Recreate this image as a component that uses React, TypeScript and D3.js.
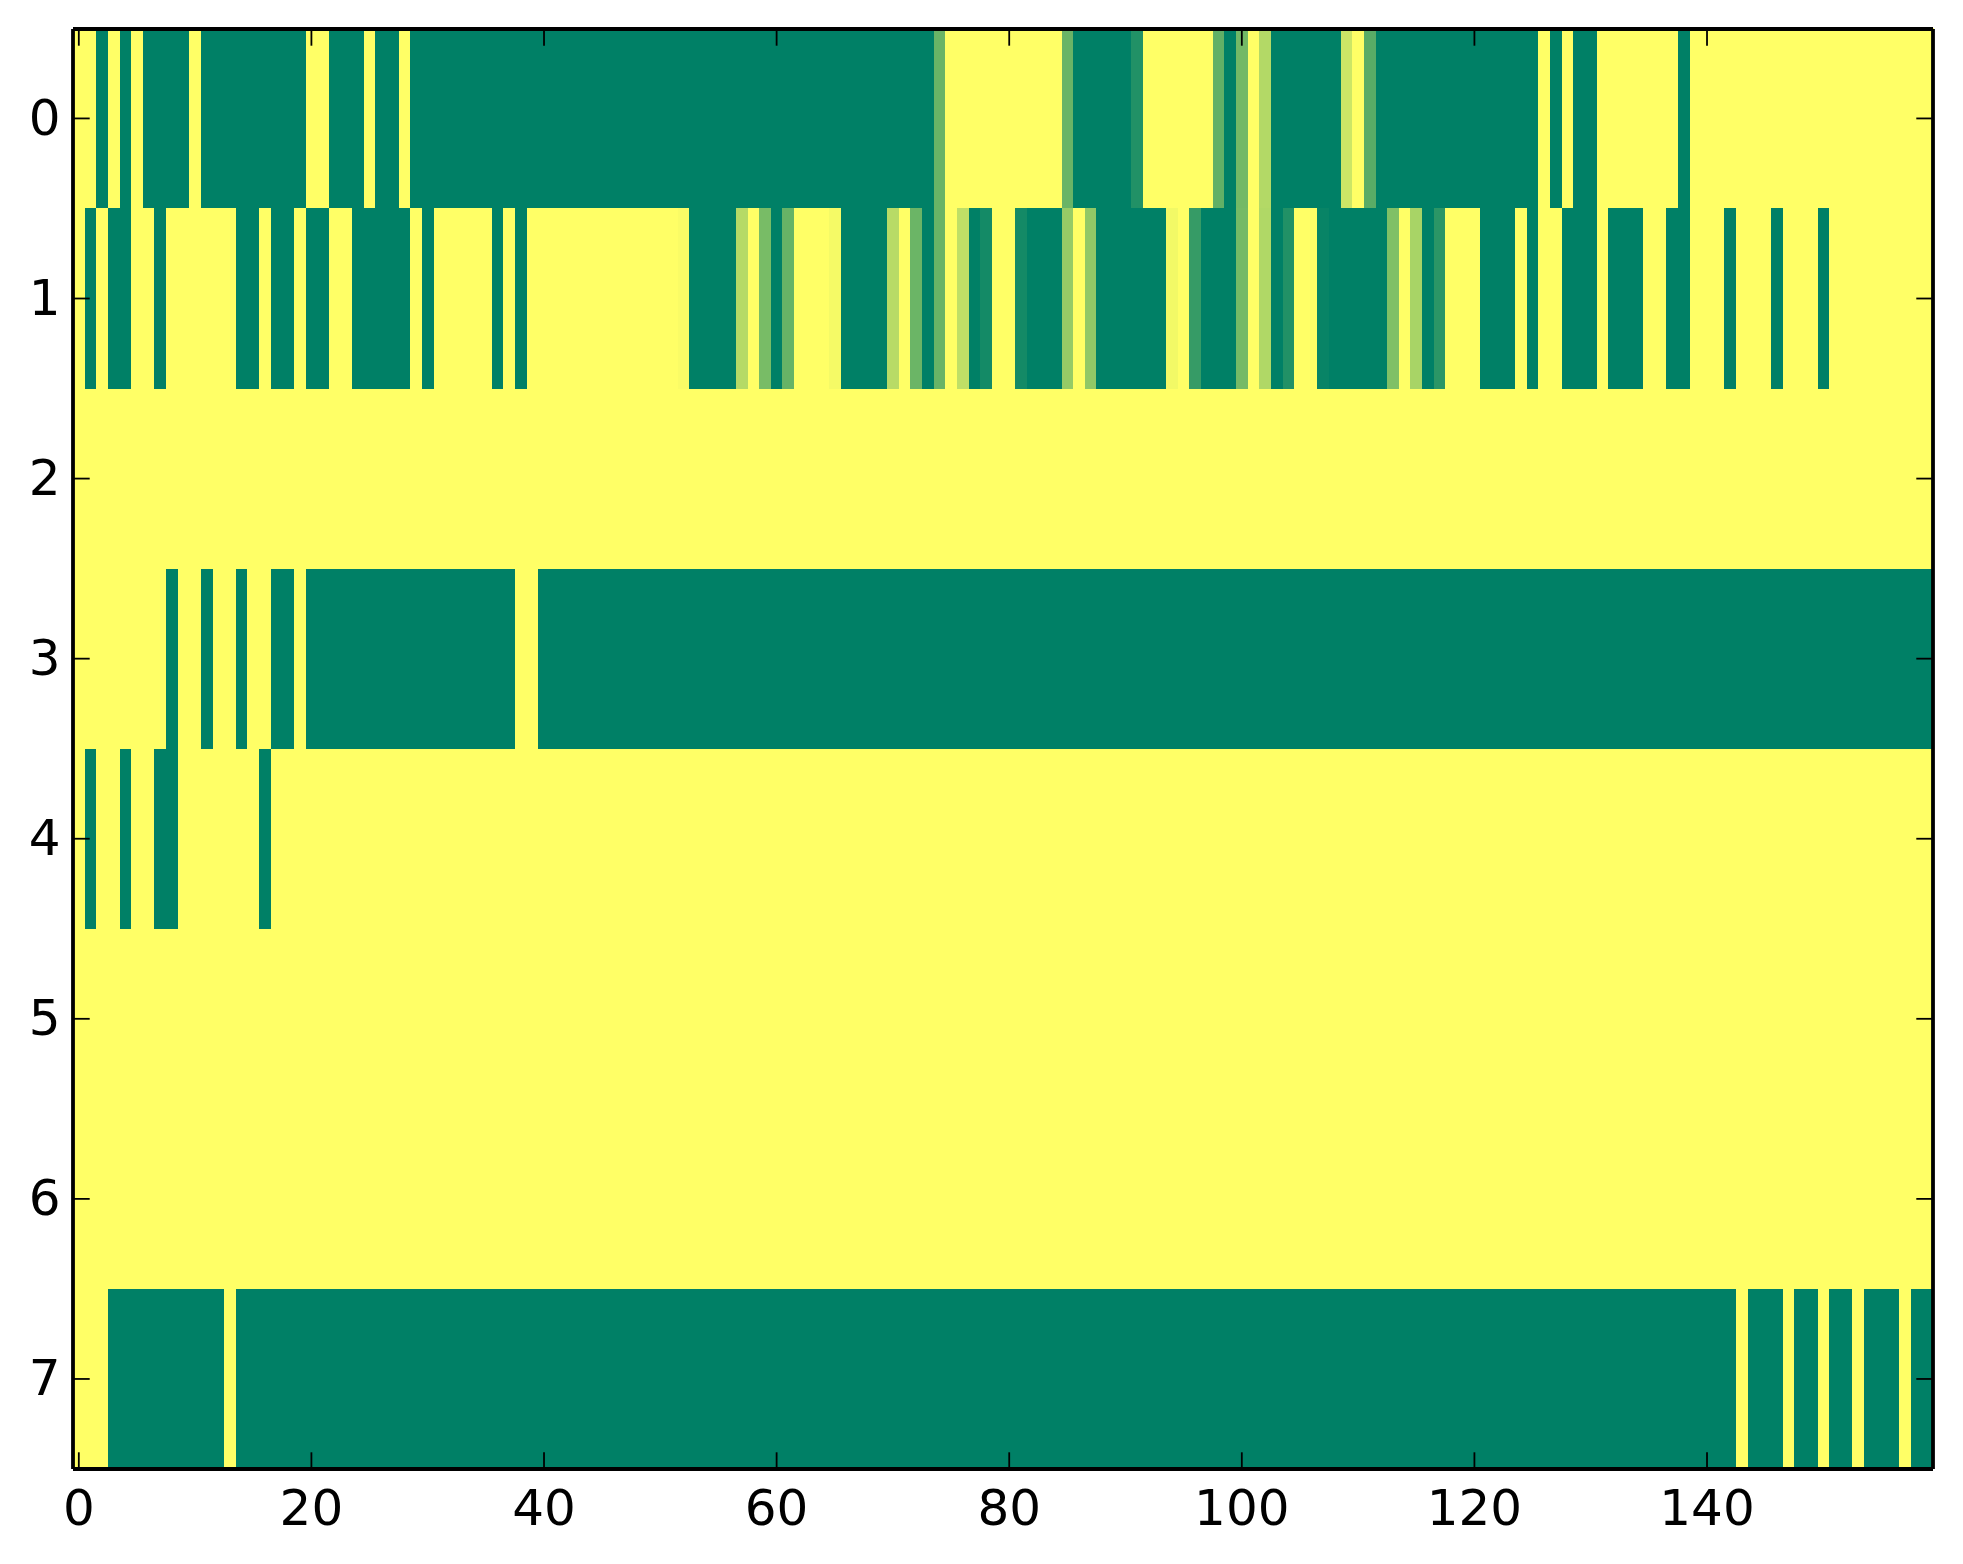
import * as d3 from "d3";

const WIDTH = 1963;
const HEIGHT = 1564;
// edges of the image inside the axes
const MARGIN = { top: 28.4, right: 29.2, bottom: 95, left: 73 };

const COLS = 160;
const ROWS = 8;

// runs of solid green cells per row: [first column, last column]
const row0Green = [[2, 2], [4, 4], [6, 9], [11, 19], [22, 24], [26, 27], [29, 73], [86, 90], [99, 99], [103, 108], [112, 125], [127, 127], [129, 130], [138, 138]];
const row1Green = [[1, 1], [3, 4], [7, 7], [14, 15], [17, 18], [20, 21], [24, 28], [30, 30], [36, 36], [38, 38], [53, 56], [60, 60], [66, 69], [73, 73], [77, 77], [82, 84], [88, 93], [97, 99], [103, 103], [108, 112], [116, 116], [121, 123], [125, 125], [128, 130], [132, 134], [137, 138], [142, 142], [146, 146], [150, 150]];
const row3Green = [[8, 8], [11, 11], [14, 14], [17, 18], [20, 37], [40, 159]];
const row4Green = [[1, 1], [4, 4], [7, 8], [16, 16]];
const row7Green = [[3, 12], [14, 142], [144, 146], [148, 149], [151, 152], [154, 156], [158, 159]];

// in-between cells: [column, value] (0 = green, 1 = yellow)
const row0Mixed = [[74, 0.41], [85, 0.41], [91, 0.13], [98, 0.38], [100, 0.45], [102, 0.7], [109, 0.8], [111, 0.35]];
const row1Mixed = [[52, 0.98], [57, 0.71], [59, 0.47], [61, 0.4], [65, 0.96], [70, 0.72], [72, 0.42], [74, 0.41], [76, 0.75], [78, 0.08], [81, 0.08], [85, 0.59], [87, 0.57], [94, 0.95], [96, 0.21], [100, 0.46], [102, 0.69], [104, 0.13], [107, 0.03], [113, 0.5], [115, 0.66], [117, 0.17]];

const greenRuns = [
  { row: 0, runs: row0Green },
  { row: 1, runs: row1Green },
  { row: 3, runs: row3Green },
  { row: 4, runs: row4Green },
  { row: 7, runs: row7Green },
];
const mixedCells = [
  { row: 0, cells: row0Mixed },
  { row: 1, cells: row1Mixed },
];

const xTicks = [0, 20, 40, 60, 80, 100, 120, 140];
const yTicks = [0, 1, 2, 3, 4, 5, 6, 7];

const TICK = 16.7;
const FONT = "'DejaVu Sans', sans-serif";

function App() {
  const left = MARGIN.left;
  const right = WIDTH - MARGIN.right;
  const top = MARGIN.top;
  const bottom = HEIGHT - MARGIN.bottom;

  // the frame sits a touch inside the image edges
  const frame = { left, right: right - 0.8, top: top + 0.6, bottom };

  const xScale = d3.scaleLinear().domain([-0.5, COLS - 0.5]).range([left, right]);
  const yScale = d3.scaleLinear().domain([-0.5, ROWS - 0.5]).range([top, bottom]);
  const color = d3.scaleLinear<string>().domain([0, 1]).range(["#008066", "#ffff66"]);

  const cellY = (row: number) => yScale(row - 0.5);
  const rowH = yScale(1) - yScale(0);

  const green = greenRuns.flatMap(({ row, runs }) =>
    runs.map(([a, b]) => (
      <rect
        key={`g${row}-${a}`}
        x={xScale(a - 0.5)}
        y={cellY(row)}
        width={xScale(b + 0.5) - xScale(a - 0.5)}
        height={rowH}
        fill={color(0)}
      />
    ))
  );

  const mixed = mixedCells.flatMap(({ row, cells }) =>
    cells.map(([c, v]) => (
      <rect
        key={`m${row}-${c}`}
        x={xScale(c - 0.5)}
        y={cellY(row)}
        width={xScale(c + 0.5) - xScale(c - 0.5)}
        height={rowH}
        fill={color(v)}
      />
    ))
  );

  return (
    <svg
      width={WIDTH}
      height={HEIGHT}
      style={{ position: "absolute", left: 0, top: 0, display: "block" }}
    >
      <rect width={WIDTH} height={HEIGHT} fill="white" />
      <g shapeRendering="crispEdges">
        <rect x={left} y={top} width={right - left} height={bottom - top} fill={color(1)} />
        {green}
        {mixed}
      </g>

      <g stroke="black" strokeWidth={1.8}>
        {xTicks.map((t) => (
          <g key={t}>
            <line x1={xScale(t)} x2={xScale(t)} y1={frame.top} y2={frame.top + TICK} />
            <line x1={xScale(t)} x2={xScale(t)} y1={frame.bottom} y2={frame.bottom - TICK} />
          </g>
        ))}
        {yTicks.map((t) => (
          <g key={t}>
            <line x1={frame.left} x2={frame.left + TICK} y1={yScale(t)} y2={yScale(t)} />
            <line x1={frame.right} x2={frame.right - TICK} y1={yScale(t)} y2={yScale(t)} />
          </g>
        ))}
      </g>

      <g stroke="black" strokeWidth={3.8}>
        <line x1={frame.left} x2={frame.left} y1={frame.top} y2={frame.bottom} />
        <line x1={frame.right} x2={frame.right} y1={frame.top} y2={frame.bottom} />
        <line x1={frame.left} x2={frame.right} y1={frame.top} y2={frame.top} />
        <line x1={frame.left} x2={frame.right} y1={frame.bottom} y2={frame.bottom} />
      </g>

      <g fontFamily={FONT} fontSize={50} fill="black">
        {xTicks.map((t) => (
          <text key={t} x={xScale(t)} y={1524.5} textAnchor="middle">
            {t}
          </text>
        ))}
        {yTicks.map((t) => (
          <text key={t} x={60.5} y={yScale(t) + 16.3} textAnchor="end">
            {t}
          </text>
        ))}
      </g>
    </svg>
  );
}

export default App;
